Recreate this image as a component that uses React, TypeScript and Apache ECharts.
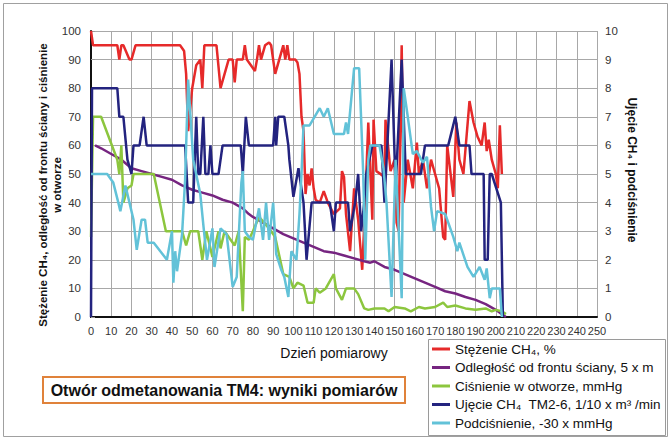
import React, { useEffect, useRef } from "react";
import * as echarts from "echarts";

const FONT = "'Liberation Sans', Arial, Helvetica, sans-serif";

const seriesNames = [
  "Stężenie CH₄, %",
  "Odległość od frontu ściany, 5 x m",
  "Ciśnienie w otworze, mmHg",
  "Ujęcie CH₄  TM2-6, 1/10 x m³ /min",
  "Podciśnienie, -30 x mmHg",
];

const xTicks = { min: 0, max: 250, interval: 10 };
const leftTicks = { min: 0, max: 100, interval: 10 };
const rightTicks = { min: 0, max: 10, interval: 1 };

// Stężenie CH4, % (left axis)
const ch4: [number, number][] = [
  [0, 100], [1, 95], [13, 95], [14, 90], [15, 95], [16, 95], [19, 90], [20, 90], [22, 95], [44, 95],
  [46, 93], [47, 85], [48, 65], [50, 80], [52, 88], [54, 90], [55, 80], [56, 95], [62, 95], [64, 80],
  [66, 85], [68, 90], [70, 90], [71, 82], [72, 90], [75, 90], [76, 95], [77, 90], [79, 88], [81, 86],
  [82, 90], [83, 95], [84, 90], [86, 95], [88, 96], [89, 95], [90, 90], [91, 85], [93, 90], [95, 95],
  [96, 90], [97, 95], [98, 90], [101, 90], [102, 89], [103, 85], [104, 70], [105, 65], [106, 43], [107, 50],
  [108, 46], [109, 52], [110, 45], [111, 41], [113, 40], [115, 44], [117, 40], [120, 36], [123, 38], [124, 51],
  [125, 49], [126, 36], [128, 23], [130, 45], [132, 34], [134, 16.5], [135.5, 40], [137, 68], [139, 34], [139.6, 69],
  [141, 51], [145, 49], [145.5, 69], [148, 51], [150, 55], [151, 33], [152, 30], [153.5, 95], [154.5, 40], [156.5, 55],
  [159, 45], [161, 61], [162, 50], [164, 55], [166, 45], [168, 55], [170, 50], [172, 45], [174, 28], [175, 27],
  [176, 60], [179, 42], [180.5, 68], [182, 55], [184, 50], [187, 75.5], [189, 68], [191, 63], [193, 60], [194.5, 68],
  [195.5, 58], [196.5, 62], [198, 55], [200, 50], [201, 45], [202, 67], [203, 50],
];

// Odległość od frontu ściany, 5 x m (left axis)
const distance: [number, number][] = [
  [2, 60], [5, 59], [10, 57], [15, 55], [20, 52], [25, 51], [30, 50], [35, 49], [40, 48], [45, 46],
  [50, 44.5], [55, 43.5], [60, 42.5], [65, 41], [70, 40], [75, 38], [78, 36], [80, 35], [85, 33], [90, 31],
  [95, 29], [100, 27.5], [105, 26], [110, 24.5], [115, 23], [120, 22.5], [125, 21.5], [130, 20.5], [135, 19.5], [138, 19],
  [140, 19.5], [145, 17.5], [150, 16.5], [155, 15], [160, 13.5], [165, 12], [170, 10.5], [175, 9], [180, 8.2], [185, 7],
  [190, 6], [195, 4.5], [200, 2.5], [203, 1], [205, 0],
];

// Ciśnienie w otworze, mmHg (left axis)
const pressure: [number, number][] = [
  [0, 28], [1, 70], [5, 70], [13, 55], [14, 50], [15, 60], [16, 40], [18, 45], [20, 46], [21, 50],
  [31, 50], [37, 30], [45, 30], [47, 25], [49, 30], [53, 30], [55, 20], [57, 30], [60, 21], [63, 30],
  [64, 24], [66, 30], [71, 25], [73, 30], [75, 2], [76, 28], [78, 27], [80, 30], [83, 35], [88, 31],
  [91, 28], [95, 15], [98, 14], [100, 10], [102, 12], [105, 11], [107, 5], [110, 5], [111, 10], [113, 8.5],
  [116, 10], [120, 15], [121, 10], [124, 6], [126, 10], [130, 10], [132, 8], [135, 3], [137, 2.5], [140, 3],
  [145, 3], [147, 2], [150, 3.5], [155, 3], [158, 2], [162, 3.5], [165, 3], [170, 3.5], [174, 5], [176, 3.5],
  [180, 4], [185, 3], [190, 2.5], [195, 3], [198, 2], [200, 2.5], [203, 2], [205, 1],
];

// Ujęcie CH4 TM2-6 (right axis)
const capture: [number, number][] = [
  [0, 0], [0.5, 8], [13, 8], [14, 7], [16, 7], [18, 5.5], [20, 5], [21, 6], [24, 6], [26, 7],
  [27.5, 6], [46.5, 6], [48, 4], [50.5, 4], [52, 7], [53, 5], [54, 5], [55.5, 7], [56.5, 5], [58, 5],
  [59, 6], [60, 5], [63, 5], [65, 6], [74, 6], [75, 5], [76.5, 7], [78, 6], [90, 6], [91, 7],
  [91.5, 6], [92.5, 7], [95.5, 7], [97.5, 6], [98, 5.5], [100, 4.2], [102.5, 5.2], [105, 4], [106.5, 2], [109, 4],
  [118, 4], [120, 3], [121, 4], [127, 4], [128, 3], [130.5, 4], [132, 5], [133.5, 3], [135, 4], [136, 5],
  [139, 6], [143.5, 6], [145, 4], [148.5, 9], [150.5, 4.5], [153.5, 9], [155.5, 5], [163, 5], [165, 6], [176.5, 6],
  [180, 7], [182, 6], [187, 6], [188, 5], [194, 5], [194.5, 2], [196, 2], [197, 5], [198, 5], [202.5, 4],
  [203.5, 0],
];

// Podciśnienie, -30 x mmHg (right axis)
const vacuum: [number, number][] = [
  [0, 5], [8, 5], [10, 4.8], [11, 4.7], [13.5, 4], [14.5, 3.7], [17, 4.6], [19, 4], [21, 3.4], [22.6, 2.35],
  [25, 3.4], [26.7, 3.4], [28, 2.6], [31, 2.6], [37.5, 2], [40, 3], [40.7, 1.2], [41.6, 2.3], [42.5, 1.6], [45, 2.9],
  [46.5, 4.8], [48, 8.3], [50.5, 5.5], [54, 4.3], [55.6, 3.15], [57.3, 2], [60, 3.1], [61, 1.75], [64, 3.1], [67, 2.9],
  [70, 1.05], [72, 1.4], [74.3, 4.7], [75, 5.1], [76, 3], [78, 2.8], [80, 2.7], [83, 3.8], [85, 2.7], [86.5, 4],
  [88, 2.7], [90, 4], [91.5, 2.2], [94, 1.65], [95.5, 1.4], [97.5, 0.7], [99, 2.3], [101.5, 2], [103, 3.6], [104, 5],
  [105, 6.7], [108, 6.7], [113, 7.3], [115, 7], [117, 7.3], [120, 6.4], [125, 6.4], [126, 6.8], [127, 6.4], [130, 8.7],
  [132.5, 8.7], [134.5, 5], [135.5, 2], [137, 5.5], [138, 6], [142.5, 6], [144.5, 5.2], [146, 4], [148.5, 0.7], [150.5, 5.5],
  [153.5, 0.66], [154.5, 8], [156.5, 7], [159, 5.7], [161, 5.8], [164, 5.4], [166, 5.6], [168, 3.85], [169.5, 3], [171, 3.7],
  [175, 3.6], [176, 3.4], [179, 2.8], [181, 2.3], [182, 2.6], [186, 1.75], [189, 1.4], [192, 1.75], [194.5, 1.3], [195.5, 1.7],
  [197, 0.66], [198, 1], [202, 1], [203, 0],
];

const colors = ["#e62a2a", "#762580", "#8cc63e", "#23237f", "#62c2d8"];

export default function App() {
  const ref = useRef<HTMLDivElement>(null);

  useEffect(() => {
    if (!ref.current) return;
    const chart = echarts.init(ref.current, undefined, { renderer: "svg" });
    const datasets = [ch4, distance, pressure, capture, vacuum];
    const axisIdx = [0, 0, 0, 1, 1];

    chart.setOption({
      animation: false,
      backgroundColor: "#ffffff",
      textStyle: { fontFamily: FONT },
      grid: { left: 91, right: 74, top: 31, bottom: 122, containLabel: false },
      xAxis: {
        type: "value",
        min: xTicks.min,
        max: xTicks.max,
        interval: xTicks.interval,
        axisLine: { show: true, onZero: false, lineStyle: { color: "#111", width: 2 } },
        axisTick: { show: false },
        axisLabel: { color: "#333", fontSize: 11, margin: 8, fontFamily: FONT },
        splitLine: { show: true, lineStyle: { color: "#a8a8a8", width: 1 } },
      },
      yAxis: [
        {
          type: "value",
          min: leftTicks.min,
          max: leftTicks.max,
          interval: leftTicks.interval,
          axisLine: { show: true, onZero: false, lineStyle: { color: "#111", width: 2 } },
          axisTick: { show: false },
          axisLabel: { color: "#333", fontSize: 11.5, margin: 10, fontFamily: FONT },
          splitLine: { show: true, lineStyle: { color: "#a8a8a8", width: 1 } },
        },
        {
          type: "value",
          min: rightTicks.min,
          max: rightTicks.max,
          interval: rightTicks.interval,
          position: "right",
          axisLine: { show: false },
          axisTick: { show: true, length: 4, lineStyle: { color: "#999" } },
          axisLabel: { color: "#333", fontSize: 11.5, margin: 8, fontFamily: FONT },
          splitLine: { show: false },
        },
      ],
      legend: {
        orient: "vertical",
        left: 432,
        top: 342,
        height: 97,
        padding: 0,
        itemWidth: 18,
        itemHeight: 3,
        itemGap: 4.5,
        icon: "rect",
        textStyle: { fontSize: 13.5, color: "#111", fontFamily: FONT, lineHeight: 14 },
        data: seriesNames,
      },
      series: datasets.map((d, i) => ({
        name: seriesNames[i],
        type: "line",
        yAxisIndex: axisIdx[i],
        data: d,
        showSymbol: false,
        symbol: "none",
        color: colors[i],
        lineStyle: { color: colors[i], width: 2.5 },
        z: 2 + i,
      })),
      graphic: [
        {
          type: "rect",
          z: -10,
          shape: { x: 3.5, y: 3.5, width: 664, height: 433 },
          style: { fill: "none", stroke: "#a0a0a0", lineWidth: 1 },
        },
        {
          type: "rect",
          z: -5,
          shape: { x: 428.5, y: 339.5, width: 237, height: 96 },
          style: { fill: "#fff", stroke: "#9a9a9a", lineWidth: 1 },
        },
        {
          type: "rect",
          shape: { x: 43, y: 377, width: 362, height: 26 },
          style: { fill: "#fff", stroke: "#e0823a", lineWidth: 2 },
        },
        {
          type: "text",
          x: 224,
          y: 390.5,
          style: {
            text: "Otwór odmetanowania TM4: wyniki pomiarów",
            fontFamily: FONT,
            fontSize: 16,
            fontWeight: "bold",
            fill: "#111",
            textAlign: "center",
            textVerticalAlign: "middle",
          },
        },
        {
          type: "text",
          x: 334,
          y: 353,
          style: {
            text: "Dzień pomiarowy",
            fontFamily: FONT,
            fontSize: 14,
            fill: "#111",
            textAlign: "center",
            textVerticalAlign: "middle",
          },
        },
        {
          type: "text",
          x: 50,
          y: 185,
          rotation: Math.PI / 2,
          style: {
            text: "Stężenie CH₄, odległość od frontu ściany i ciśnienie\nw otworze",
            fontFamily: FONT,
            fontSize: 11.5,
            fontWeight: "bold",
            lineHeight: 14,
            fill: "#111",
            textAlign: "center",
            textVerticalAlign: "middle",
          },
        },
        {
          type: "text",
          x: 632,
          y: 170,
          rotation: -Math.PI / 2,
          style: {
            text: "Ujęcie CH₄ i podciśnienie",
            fontFamily: FONT,
            fontSize: 12,
            fontWeight: "bold",
            fill: "#111",
            textAlign: "center",
            textVerticalAlign: "middle",
          },
        },
      ],
    });

    return () => chart.dispose();
  }, []);

  return (
    <div
      ref={ref}
      style={{ position: "absolute", left: 0, top: 0, width: 671, height: 439 }}
    />
  );
}
